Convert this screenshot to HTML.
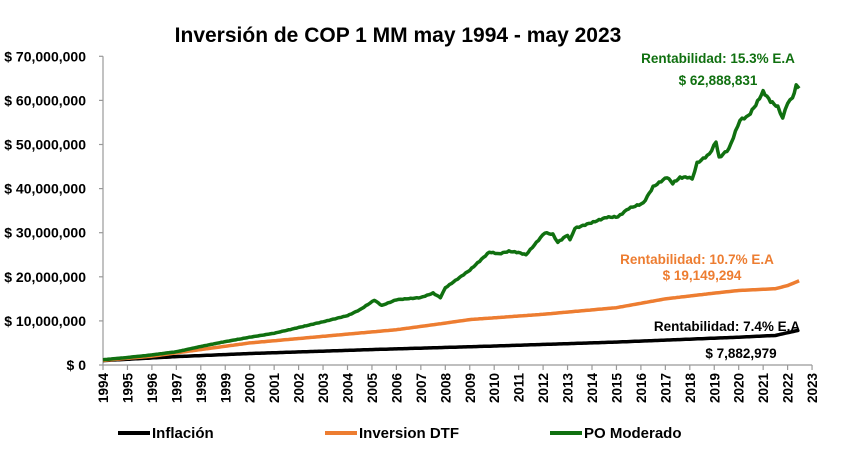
<!DOCTYPE html>
<html><head><meta charset="utf-8"><style>
body{margin:0;background:#fff}
svg{display:block;font-family:"Liberation Sans",sans-serif;font-weight:bold}
</style></head><body>
<svg id="s" width="851" height="459" viewBox="0 0 851 459">
<text x="398" y="42" text-anchor="middle" font-size="21">Inversión de COP 1 MM may 1994 - may 2023</text>
<g id="ax" stroke="#999" stroke-width="1.2" fill="none"></g>
<g id="lab" font-size="14" text-anchor="end"></g>
<polyline id="k" fill="none" stroke="#000" stroke-width="3.5" stroke-linejoin="round"/>
<polyline id="o" fill="none" stroke="#ED7D31" stroke-width="3.5" stroke-linejoin="round"/>
<polyline id="g" fill="none" stroke="#107010" stroke-width="3.5" stroke-linejoin="round"/>
<g font-size="13.5" text-anchor="middle">
<text x="718" y="63" fill="#107010">Rentabilidad: 15.3% E.A</text>
<text x="718" y="85" fill="#107010">$ 62,888,831</text>
<text x="697" y="264" fill="#ED7D31">Rentabilidad: 10.7% E.A</text>
<text x="702" y="280" fill="#ED7D31">$ 19,149,294</text>
<text x="727" y="331" fill="#000">Rentabilidad: 7.4% E.A</text>
<text x="741" y="358" fill="#000">$ 7,882,979</text>
</g>
<g font-size="15">
<line x1="118" y1="433" x2="150" y2="433" stroke="#000" stroke-width="4"/><text x="152" y="438">Inflación</text>
<line x1="325" y1="433" x2="357" y2="433" stroke="#ED7D31" stroke-width="4"/><text x="359" y="438">Inversion DTF</text>
<line x1="550" y1="433" x2="582" y2="433" stroke="#107010" stroke-width="4"/><text x="584" y="438">PO Moderado</text>
</g>
</svg>
<script>
var X0=103,DX=24.45,Y0=365,DY=4.41;
function px(t){return X0+(t-1994)*DX}function py(v){return Y0-v*DY}
var ax=document.getElementById('ax'),lab=document.getElementById('lab'),ns='http://www.w3.org/2000/svg';
function el(p,n,a,t){var e=document.createElementNS(ns,n);for(var k in a)e.setAttribute(k,a[k]);if(t)e.textContent=t;p.appendChild(e);return e}
el(ax,'line',{x1:X0,y1:py(70),x2:X0,y2:Y0});
el(ax,'line',{x1:X0,y1:Y0,x2:px(2023),y2:Y0});
var names=['$ 0','$ 10,000,000','$ 20,000,000','$ 30,000,000','$ 40,000,000','$ 50,000,000','$ 60,000,000','$ 70,000,000'];
for(var i=0;i<=7;i++){el(ax,'line',{x1:X0-4,y1:py(i*10),x2:X0,y2:py(i*10)});el(lab,'text',{x:86,y:py(i*10)+5},names[i]);}
for(var y=1994;y<=2023;y++){var x=px(y);el(ax,'line',{x1:x,y1:Y0,x2:x,y2:Y0+5});el(lab,'text',{transform:'translate('+(x+5)+','+(Y0+8)+') rotate(-90)','font-size':'13.5'},y);}
function interp(pts,step){var out=[];for(var i=0;i<pts.length-1;i++){var a=pts[i],b=pts[i+1];var n=Math.max(1,Math.round((b[0]-a[0])/step));for(var j=0;j<n;j++){var f=j/n;out.push([a[0]+(b[0]-a[0])*f,a[1]+(b[1]-a[1])*f]);}}out.push(pts[pts.length-1]);return out}
function set(id,pts,jit){var s=interp(pts,1/12).map(function(p,i){var v=p[1]+(jit?jit*p[1]*Math.sin(i*2.3)*0.5:0);return px(p[0]).toFixed(1)+','+py(v).toFixed(1)}).join(' ');document.getElementById(id).setAttribute('points',s)}
set('k',[[1994,1],[1997,1.9],[2000,2.6],[2005,3.5],[2010,4.3],[2015,5.2],[2020,6.3],[2021.5,6.7],[2022.47,7.9]]);
set('o',[[1994,1.05],[1996,2],[1998,3.5],[2000,5],[2003,6.5],[2006,8],[2008,9.5],[2009,10.3],[2012,11.5],[2015,13],[2017,15],[2019,16.3],[2020,16.9],[2021.5,17.3],[2022,18],[2022.47,19.1]]);
set('g',[[1994,1.2],[1995,1.7],[1996,2.3],[1997,3],[1998,4.2],[1999,5.3],[2000,6.3],[2001,7.2],[2002,8.5],[2003,9.8],[2004,11.2],[2004.5,12.5],[2005.1,14.7],[2005.4,13.5],[2006,14.8],[2007,15.3],[2007.5,16.3],[2007.8,15.3],[2008,17.5],[2009,21.5],[2009.8,25.6],[2010.2,25.2],[2010.6,25.8],[2011,25.5],[2011.3,25],[2012.07,30],[2012.4,29.6],[2012.6,27.8],[2013,29.5],[2013.1,28.3],[2013.3,31],[2014.05,32.4],[2014.6,33.5],[2015.06,33.6],[2015.5,35.5],[2016.1,36.7],[2016.5,40.4],[2017.07,42.6],[2017.3,41.2],[2017.6,42.5],[2017.9,42.6],[2018.1,42.2],[2018.3,45.8],[2018.8,47.8],[2019.07,50.6],[2019.2,47],[2019.6,49],[2020.05,55.5],[2020.4,56.5],[2020.7,59],[2021.0,62],[2021.3,59.8],[2021.6,58.5],[2021.8,56],[2022.0,59.5],[2022.2,60.5],[2022.35,63.3],[2022.47,62.8]],0.008);
</script>
</body></html>
